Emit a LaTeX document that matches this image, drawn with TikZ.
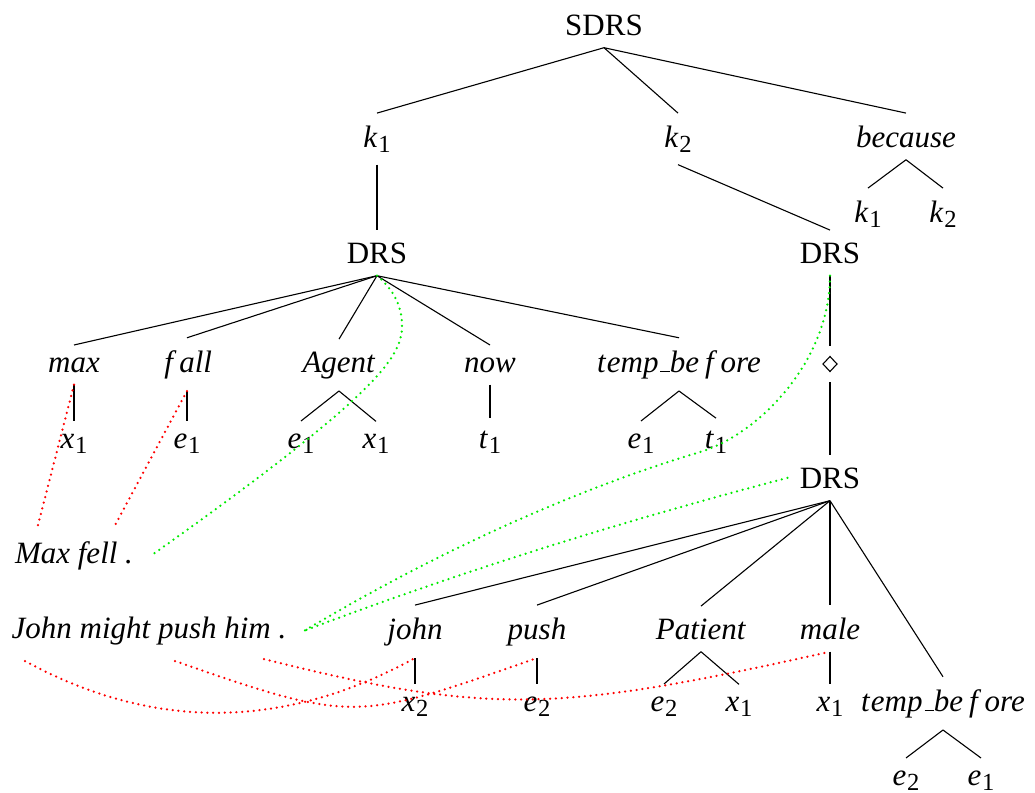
\documentclass[tikz,border=0pt]{standalone}
\usepackage{fontspec}
\setmainfont{Liberation Serif}
\definecolor{linkred}{RGB}{255,0,0}
\definecolor{linkgreen}{RGB}{0,235,0}
\newcommand\nodefont{\fontsize{15.5pt}{18pt}\selectfont}
\newcommand\sbs[1]{\raisebox{-0.17em}{\fontsize{12.3pt}{13pt}\selectfont #1}}
\newcommand\vr[2]{\textit{#1}\kern0.02em\sbs{#2}}
\newcommand\uscore{\kern0.06em\rule{0.3em}{0.5pt}}
\newcommand\tempbefore{\textit{t\kern0.04em emp}\uscore\textit{be\kern0.2em f\kern0.22em ore}}
\begin{document}
\begin{tikzpicture}[x=0.5pt,y=-0.5pt,
  tnode/.style={font=\nodefont, inner sep=6pt, anchor=base},
  sent/.style={tnode, inner xsep=9pt},
  branch/.style={draw=black, line width=0.55pt},
  reddots/.style={draw=linkred, line width=1.25pt, line cap=round, dash pattern=on 0pt off 2.9pt},
  greendots/.style={reddots, draw=linkgreen},
  possbox/.style={inner sep=0pt, minimum width=7pt, minimum height=18pt}
]
\useasboundingbox (0,0) rectangle (1035,793);

% top level
\node[tnode] (sdrs) at (604,35) {SDRS};
\node[tnode] (k1) at (377,147) {\vr{k}{1}};
\node[tnode] (k2) at (678,147) {\vr{k}{2}};
\node[tnode] (because) at (906,147) {\textit{because}};
\node[tnode] (bk1) at (868,222) {\vr{k}{1}};
\node[tnode] (bk2) at (943,222) {\vr{k}{2}};

% first DRS
\node[tnode] (drsa) at (377,263) {DRS};
\node[tnode] (max) at (74,372) {\textit{max}};
\node[tnode] (fall) at (187,372) {\textit{\kern0.08em f\kern0.2em all}};
\node[tnode] (agent) at (339,372) {\textit{Agent}};
\node[tnode] (now) at (490,372) {\textit{now}};
\node[tnode] (tba) at (679,372) {\tempbefore};
\node[tnode] (maxx) at (74,448) {\vr{x}{1}};
\node[tnode] (falle) at (187,448) {\vr{e}{1}};
\node[tnode] (agente) at (301,448) {\vr{e}{1}};
\node[tnode] (agentx) at (376,448) {\vr{x}{1}};
\node[tnode] (nowt) at (490,448) {\vr{t}{1}};
\node[tnode] (tbae) at (641,448) {\vr{e}{1}};
\node[tnode] (tbat) at (716,448) {\vr{t}{1}};

% second DRS, modal operator, embedded DRS
\node[tnode] (drsb) at (830,263) {DRS};
\node[possbox] (dia) at (830,364) {};
\draw[line width=0.55pt] (dia.center) +(0,-7.5) -- +(7,0) -- +(0,7.5) -- +(-7,0) -- cycle;
\node[tnode] (drsc) at (830,488) {DRS};
\node[tnode] (john) at (415,639) {\textit{john}};
\node[tnode] (push) at (537,639) {\textit{push}};
\node[tnode] (patient) at (701,639) {\textit{Patient}};
\node[tnode] (male) at (830,639) {\textit{male}};
\node[tnode] (tbb) at (943,711) {\tempbefore};
\node[tnode] (johnx) at (415,711) {\vr{x}{2}};
\node[tnode] (pushe) at (537,711) {\vr{e}{2}};
\node[tnode] (patiente) at (664,711) {\vr{e}{2}};
\node[tnode] (patientx) at (739,711) {\vr{x}{1}};
\node[tnode] (malex) at (830,711) {\vr{x}{1}};
\node[tnode] (tbbe) at (906,785) {\vr{e}{2}};
\node[tnode] (tbbf) at (981,785) {\vr{e}{1}};

% sentences
\node[sent] (maxfell) at (74,563) {\textit{Max fell .}};
\node[sent] (jmp) at (149,638) {\textit{John might push him .}};
\coordinate (wmax) at (37,529);
\coordinate (wfell) at (113,529);
\coordinate (wjohn) at (25,661);
\coordinate (wpush) at (175,661);
\coordinate (whim) at (264,659);

% tree branches
\draw[branch] (sdrs.south) -- (k1.north);
\draw[branch] (sdrs.south) -- (k2.north);
\draw[branch] (sdrs.south) -- (because.north);
\draw[branch] (because.south) -- (bk1.north);
\draw[branch] (because.south) -- (bk2.north);
\draw[branch] (k1.south) -- (drsa.north);
\draw[branch] (k2.south) -- (drsb.north);
\foreach \c in {max,fall,agent,now,tba} \draw[branch] (drsa.south) -- (\c.north);
\draw[branch] (max.south) -- (maxx.north);
\draw[branch] (fall.south) -- (falle.north);
\draw[branch] (agent.south) -- (agente.north);
\draw[branch] (agent.south) -- (agentx.north);
\draw[branch] (now.south) -- (nowt.north);
\draw[branch] (tba.south) -- (tbae.north);
\draw[branch] (tba.south) -- (tbat.north);
\draw[branch] (drsb.south) -- (dia.north);
\draw[branch] (dia.south) -- (drsc.north);
\foreach \c in {john,push,patient,male,tbb} \draw[branch] (drsc.south) -- (\c.north);
\draw[branch] (john.south) -- (johnx.north);
\draw[branch] (push.south) -- (pushe.north);
\draw[branch] (patient.south) -- (patiente.north);
\draw[branch] (patient.south) -- (patientx.north);
\draw[branch] (male.south) -- (malex.north);
\draw[branch] (tbb.south) -- (tbbe.north);
\draw[branch] (tbb.south) -- (tbbf.north);

% word links
\draw[reddots] (max.south) -- (wmax);
\draw[reddots] (fall.south) -- (wfell);
\draw[reddots] (wjohn) .. controls (155,732) and (286,729) .. (john.south);
\draw[reddots] (wpush) .. controls (355,724) and (357,721) .. (push.south);
\draw[reddots] (whim) .. controls (490,716) and (560,712) .. (male.south);

% discourse links
\draw[greendots] (drsa.south) .. controls (392,288) and (402,305) .. (402,325)
  .. controls (402,355) and (385,390) .. (maxfell.east);
\draw[greendots] (drsb.south) .. controls (830,360) and (760,434) .. (700,452)
  .. controls (550,497) and (408,569) .. (jmp.east);
\draw[greendots] (drsc.west) .. controls (623,521) and (462,571) .. (jmp.east);
\end{tikzpicture}
\end{document}
